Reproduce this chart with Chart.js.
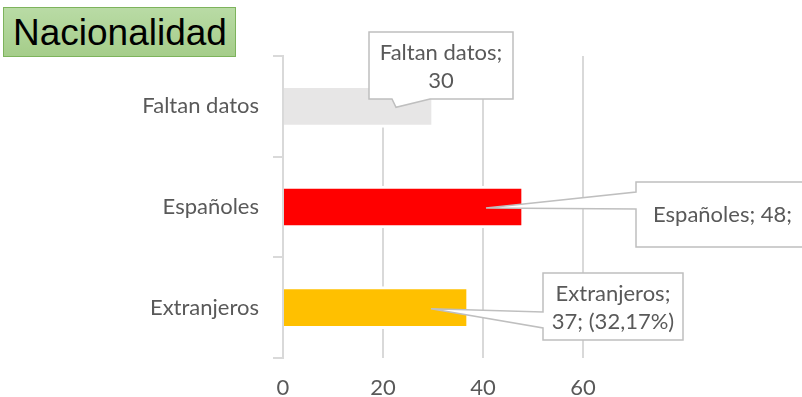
<!DOCTYPE html>
<html>
<head>
<meta charset="utf-8">
<script src="https://cdn.jsdelivr.net/npm/chart.js@4/dist/chart.umd.min.js"></script>
<style>
  html, body { margin: 0; padding: 0; background: #fff; }
  #marco { position: relative; width: 802px; height: 397px; overflow: hidden; }
  #grafico { position: absolute; left: 0; top: 0; }
  #titulo {
    position: absolute; left: 3px; top: 7px;
    width: 222px; height: 48px; padding-left: 9px;
    border: 1px solid #7db35c;
    background: linear-gradient(#b9dba5, #a5cd8a);
    font-family: "Liberation Sans", Arial, sans-serif;
    font-size: 37px; line-height: 49px; color: #000;
  }
</style>
</head>
<body>
<div id="marco">
  <canvas id="grafico" width="802" height="397"></canvas>
  <div id="titulo">Nacionalidad</div>
</div>
<script>
// Datos
const categorias = ['Faltan datos', 'Españoles', 'Extranjeros'];
const personas = [30, 48, 37];
const colores = ['#e7e6e6', '#ff0000', '#ffc000'];
const ticksX = [0, 20, 40, 60];

const total = personas.reduce((a, b) => a + b, 0);
const porcentaje = v => (v / total * 100).toFixed(2).replace('.', ',') + '%';

// Texto de cada globo
const etiquetas = [
  [categorias[0] + ';', String(personas[0])],
  [categorias[1] + '; ' + personas[1] + ';'],
  [categorias[2] + ';', personas[2] + '; (' + porcentaje(personas[2]) + ')']
];

const GRIS_TEXTO = '#595959';
const GRIS_LINEA = '#d9d9d9';
const FUENTE = 'Lato, "Open Sans", sans-serif';

// Cajas de los globos (px) y por dónde sale la flecha
const globos = [
  { x: 369, y: 32, w: 144, h: 67, lado: 'abajo', base: [392, 430], alinear: 'center' },
  { x: 636, y: 182, w: 220, h: 65, lado: 'izq', base: [192, 209], alinear: 'left' },
  { x: 543, y: 273, w: 140, h: 67, lado: 'izq', base: [312, 328], alinear: 'center' }
];

const pluginGlobos = {
  id: 'globos',
  afterDraw(chart) {
    const ctx = chart.ctx;
    const xs = chart.scales.x, ys = chart.scales.y;
    globos.forEach((g, i) => {
      // la punta queda dentro de la barra, un poco antes del final
      const px = xs.getPixelForValue(personas[i]) - 37;
      const py = ys.getPixelForValue(i) + 1;
      ctx.save();
      ctx.beginPath();
      ctx.moveTo(g.x, g.y);
      ctx.lineTo(g.x + g.w, g.y);
      ctx.lineTo(g.x + g.w, g.y + g.h);
      if (g.lado === 'abajo') {
        ctx.lineTo(g.base[1], g.y + g.h);
        ctx.lineTo(px, py);
        ctx.lineTo(g.base[0], g.y + g.h);
        ctx.lineTo(g.x, g.y + g.h);
        ctx.closePath();
      } else {
        ctx.lineTo(g.x, g.y + g.h);
        ctx.lineTo(g.x, g.base[1]);
        ctx.lineTo(px, py);
        ctx.lineTo(g.x, g.base[0]);
        ctx.closePath();
      }
      ctx.fillStyle = '#fff';
      ctx.fill();
      ctx.strokeStyle = '#bfbfbf';
      ctx.lineWidth = 1.5;
      ctx.stroke();

      ctx.fillStyle = GRIS_TEXTO;
      ctx.font = '22px ' + FUENTE;
      ctx.textBaseline = 'alphabetic';
      const lineas = etiquetas[i];
      const cy = g.y + g.h / 2;
      lineas.forEach((t, k) => {
        const by = lineas.length === 1 ? cy + 7 : cy - 6 + k * 28;
        if (g.alinear === 'center') {
          ctx.textAlign = 'center';
          ctx.fillText(t, g.x + g.w / 2, by);
        } else {
          ctx.textAlign = 'left';
          ctx.fillText(t, g.x + 17, by);
        }
      });
      ctx.restore();
    });
  }
};

new Chart(document.getElementById('grafico'), {
  type: 'bar',
  data: {
    labels: categorias,
    datasets: [{
      data: personas,
      backgroundColor: colores,
      borderColor: '#ffffff',
      borderWidth: { top: 3, bottom: 3, right: 2, left: 0 },
      borderSkipped: 'start',
      barThickness: 42
    }]
  },
  options: {
    indexAxis: 'y',
    responsive: false,
    animation: false,
    layout: { padding: { top: 56, right: 219, left: 0, bottom: 0 } },
    plugins: {
      legend: { display: false },
      tooltip: { enabled: false }
    },
    scales: {
      x: {
        min: 0,
        max: 60,
        afterFit: s => { s.height = 39; },
        afterBuildTicks: s => { s.ticks = ticksX.map(v => ({ value: v })); },
        grid: { color: GRIS_LINEA, lineWidth: 2, drawTicks: false },
        border: { display: false },
        ticks: { color: GRIS_TEXTO, font: { family: FUENTE, size: 22 }, padding: 17 }
      },
      y: {
        afterFit: s => { s.width = 283; },
        grid: { drawOnChartArea: false, color: GRIS_LINEA, lineWidth: 2, tickLength: 10 },
        border: { color: GRIS_LINEA, width: 2 },
        ticks: { color: GRIS_TEXTO, font: { family: FUENTE, size: 22 }, padding: 14 }
      }
    }
  },
  plugins: [pluginGlobos]
});
</script>
</body>
</html>
